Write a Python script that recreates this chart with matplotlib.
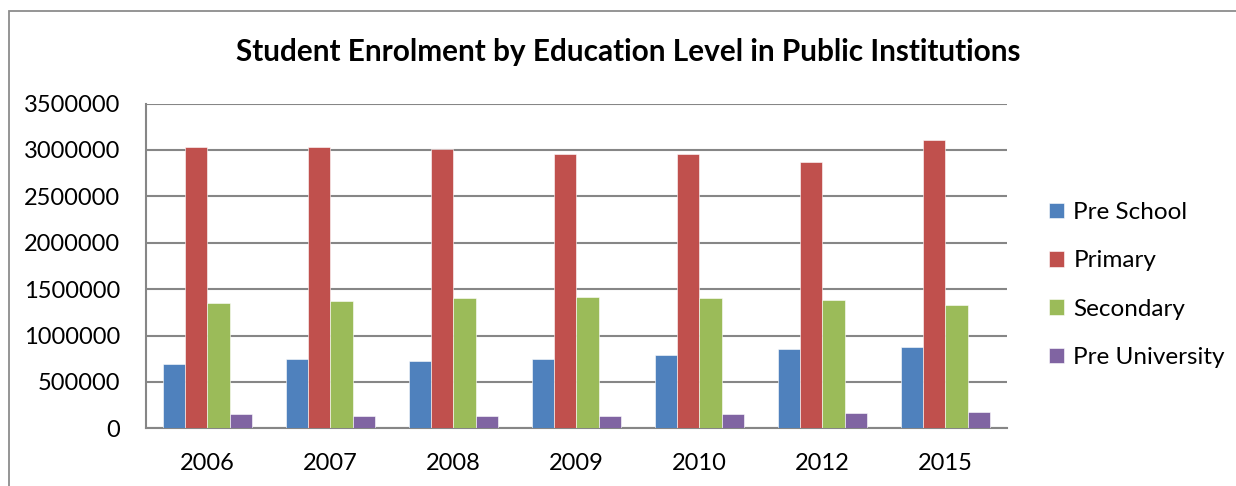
import matplotlib
matplotlib.use("Agg")
import matplotlib.pyplot as plt
import numpy as np
from matplotlib.patches import Rectangle

years = ["2006", "2007", "2008", "2009", "2010", "2012", "2015"]
pre_school = [690000, 747000, 725000, 750000, 786000, 854000, 872000]
primary = [3026000, 3030000, 3005000, 2958000, 2954000, 2868000, 3102000]
secondary = [1350000, 1368000, 1404000, 1411000, 1404000, 1378000, 1328000]
pre_university = [154000, 133000, 133000, 129000, 154000, 165000, 172000]

series = [("Pre School", pre_school, "#4F81BD"),
          ("Primary", primary, "#C0504D"),
          ("Secondary", secondary, "#9BBB59"),
          ("Pre University", pre_university, "#8064A2")]

plt.rcParams['font.family'] = ['Lato', 'DejaVu Sans']

W, H = 1236, 486
fig = plt.figure(figsize=(W / 100, H / 100), dpi=100)

# outer chart border (only left and top visible)
fig.patches.append(Rectangle((9 / W, -0.1), 1.2, (H - 11) / H + 0.1,
                             transform=fig.transFigure, fill=False,
                             edgecolor="#8C8C8C", linewidth=1.3))

left, right, top, bottom = 146, 1006.7, 103.5, 428.3
ax = fig.add_axes([left / W, 1 - bottom / H, (right - left) / W, (bottom - top) / H])

x = np.arange(len(years))
bw = 1 / 5.5
for i, (name, vals, col) in enumerate(series):
    ax.bar(x + (i - 1.5) * bw, vals, width=bw, color=col, label=name,
           edgecolor="white", linewidth=0.4, zorder=3)

ax.set_xlim(-0.5, len(years) - 0.5)
ax.set_ylim(0, 3500000)
ax.set_yticks(np.arange(0, 3500001, 500000))
ax.set_yticklabels([str(v) for v in range(0, 3500001, 500000)])
ax.set_xticks(x)
ax.set_xticklabels(years)
ax.tick_params(axis='both', length=0, labelsize=17, colors="black")
ax.tick_params(axis='y', pad=18.5)
ax.tick_params(axis='x', pad=18)
ax.yaxis.grid(True, color="#868686", linewidth=1.5, zorder=0)
ax.set_axisbelow(True)
for s in ["top", "right"]:
    ax.spines[s].set_visible(False)
for s in ["left", "bottom"]:
    ax.spines[s].set_color("#868686")
    ax.spines[s].set_linewidth(1.5)

fig.text(628 / W, 1 - 52 / H, "Student Enrolment by Education Level in Public Institutions",
         ha="center", va="center", fontsize=21.4, fontweight="bold")

leg = ax.legend(loc="center left", bbox_to_anchor=(1049 / W, 1 - 285 / H),
                bbox_transform=fig.transFigure, frameon=False, fontsize=17.5,
                handlelength=0.6, handleheight=0.6, handletextpad=0.4,
                labelspacing=1.12, borderaxespad=0, borderpad=0)

fig.savefig("out.png", dpi=100)
